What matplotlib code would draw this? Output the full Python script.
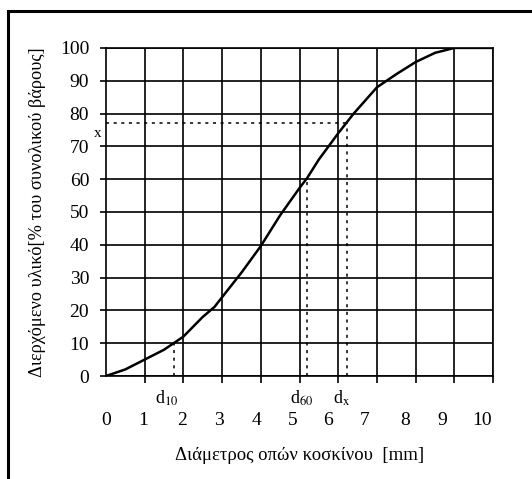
import matplotlib.pyplot as plt
from matplotlib.patches import Rectangle

plt.rcParams["font.family"] = ["Liberation Serif", "DejaVu Serif"]

# grading curve
diam = [0, 0.5, 1, 1.5, 1.8, 2, 2.5, 2.8, 3, 3.5, 4, 4.5, 5, 5.2, 5.5, 6, 6.4, 7, 7.5, 8, 8.5, 9, 10]
passing = [0, 2, 5, 8, 10.4, 12, 18, 21, 24, 31.5, 39.6, 49, 57.3, 60.4, 66, 74, 80, 88, 92, 95.7, 98.5, 100, 100]

# x tick labels sit a little off the grid in the original
xlab_pos = [0, 0.95, 1.98, 2.92, 3.9, 4.83, 5.74, 6.69, 7.73, 8.68, 9.72]
xlab_txt = [str(i) for i in range(11)]

d10, d60, dx, x_pct = 1.75, 5.2, 6.22, 77

fig = plt.figure(figsize=(5.32, 4.79), dpi=100)
ax = fig.add_axes([0.199, 0.215, 0.728, 0.685])

ax.plot(diam, passing, color="black", lw=1.8)

ax.set_xlim(0, 10)
ax.set_ylim(0, 100)
ax.set_xticks(range(11), minor=True)
ax.set_xticks(xlab_pos)
ax.set_xticklabels(xlab_txt, fontsize=14)
ax.set_yticks(range(0, 101, 10))
ax.set_yticklabels([str(v) for v in range(0, 101, 10)], fontsize=14)
ax.tick_params(axis="x", which="major", length=0, pad=26)
ax.tick_params(axis="x", which="minor", length=5, width=1.2, direction="out")
ax.tick_params(axis="y", length=4, width=1.2, pad=8)
ax.grid(True, axis="x", which="minor", color="black", lw=1.2)
ax.grid(True, axis="y", color="black", lw=1.2)
for s in ax.spines.values():
    s.set_linewidth(1.2)

dot = dict(color="black", lw=1.1, ls=(0, (2, 3)))
ax.plot([d10, d10], [0, 10], **dot)
ax.plot([d60, d60], [0, 60], **dot)
ax.plot([dx, dx], [0, x_pct], **dot)
ax.plot([0, dx], [x_pct, x_pct], **dot)

sub = dict(ha="center", va="top", fontsize=13, math_fontfamily="stix")
ax.text(1.57, -3.8, r"d$_{\mathrm{10}}$", **sub)
ax.text(5.06, -3.8, r"d$_{\mathrm{60}}$", **sub)
ax.text(6.1, -3.8, r"d$_{\mathrm{x}}$", **sub)
ax.text(-0.2, 74, "x", ha="center", va="center", fontsize=11)

ax.set_xlabel("Διάμετρος οπών κοσκίνου  [mm]", fontsize=13.5, labelpad=13)
ax.set_ylabel("Διερχόμενο υλικό[% του συνολικού βάρους]", fontsize=13.2, labelpad=10)

fig.patches.append(Rectangle((8 / 532, -0.1), 1.2, 1 - 10.5 / 479 + 0.1, transform=fig.transFigure,
                             fill=False, ec="black", lw=2.2))

fig.savefig("out.png", dpi=100)
